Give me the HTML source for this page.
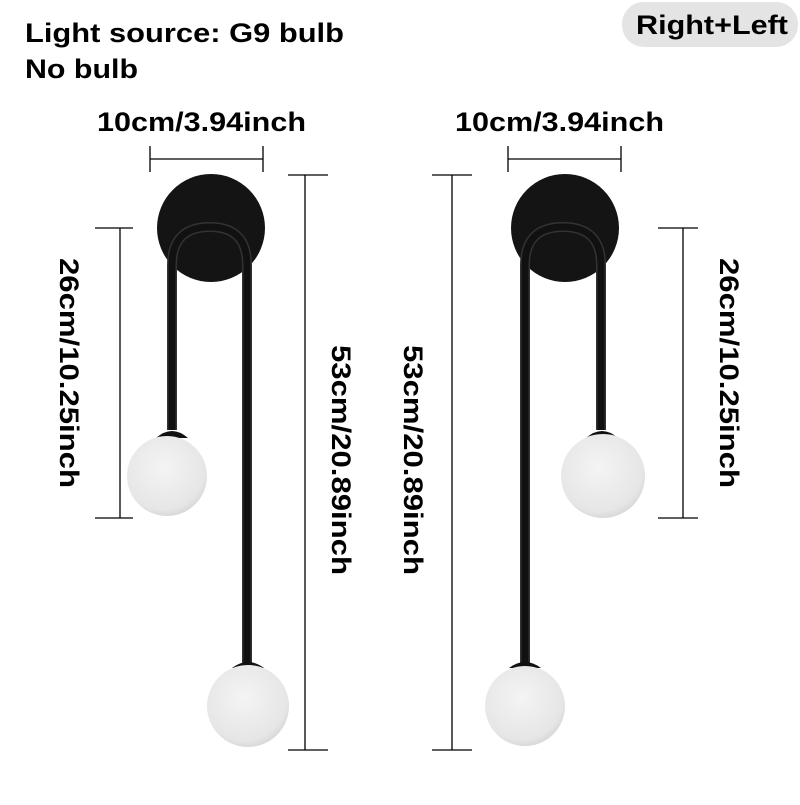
<!DOCTYPE html>
<html><head><style>
body{margin:0;width:800px;height:800px;background:#fff;overflow:hidden;font-family:"Liberation Sans",sans-serif}
</style></head><body>
<svg width="800" height="800" xmlns="http://www.w3.org/2000/svg" font-family="Liberation Sans, sans-serif" font-weight="bold">
<defs>
<radialGradient id="g" cx="0.45" cy="0.4" r="0.65"><stop offset="0" stop-color="#f4f4f4"/><stop offset="0.8" stop-color="#e6e6e6"/><stop offset="1" stop-color="#d2d2d2"/></radialGradient>
</defs>
<text x="25" y="42" font-size="27" textLength="319" lengthAdjust="spacingAndGlyphs">Light source: G9 bulb</text>
<text x="25" y="78" font-size="27" textLength="113" lengthAdjust="spacingAndGlyphs">No bulb</text>
<rect x="622" y="2" width="176" height="45" rx="22" fill="#e4e4e4"/>
<text x="636" y="34" font-size="27" textLength="152" lengthAdjust="spacingAndGlyphs">Right+Left</text>
<g stroke="#000" stroke-width="1.3" fill="none">
<path d="M150 159H263M150 146V172M263 146V172"/>
<path d="M508 159H621M508 146V172M621 146V172"/>
<path d="M120 228V518M95 228H133M95 518H133"/>
<path d="M305 175V750M288 175H328M288 750H328"/>
<path d="M452 175V750M432 175H472M432 750H472"/>
<path d="M683 228V518M658 228H698M658 518H698"/>
</g>
<text x="97" y="131" font-size="27" textLength="209" lengthAdjust="spacingAndGlyphs">10cm/3.94inch</text>
<text x="455" y="131" font-size="27" textLength="209" lengthAdjust="spacingAndGlyphs">10cm/3.94inch</text>
<text transform="translate(60,258) rotate(90)" font-size="27" textLength="230" lengthAdjust="spacingAndGlyphs">26cm/10.25inch</text>
<text transform="translate(332,345) rotate(90)" font-size="27" textLength="230" lengthAdjust="spacingAndGlyphs">53cm/20.89inch</text>
<text transform="translate(404,345) rotate(90)" font-size="27" textLength="230" lengthAdjust="spacingAndGlyphs">53cm/20.89inch</text>
<text transform="translate(720,258) rotate(90)" font-size="27" textLength="230" lengthAdjust="spacingAndGlyphs">26cm/10.25inch</text>
<!-- left lamp -->
<circle cx="211" cy="228" r="54" fill="#141414"/>
<path d="M172 430V265Q172 227 210 227Q247 227 247 265V665" stroke="#333" stroke-width="10" fill="none"/>
<path d="M172 430V265Q172 227 210 227Q247 227 247 265V665" stroke="#111" stroke-width="7" fill="none"/>
<path d="M156 438Q172 424 188 438Z" fill="#111"/>
<path d="M232 668Q248 656 264 668Z" fill="#111"/>
<circle cx="167" cy="476" r="40" fill="url(#g)"/>
<circle cx="248" cy="706" r="41" fill="url(#g)"/>
<!-- right lamp -->
<circle cx="565" cy="228" r="54" fill="#141414"/>
<path d="M525 665V265Q525 227 563 227Q601 227 601 265V430" stroke="#333" stroke-width="10" fill="none"/>
<path d="M525 665V265Q525 227 563 227Q601 227 601 265V430" stroke="#111" stroke-width="7" fill="none"/>
<path d="M586 438Q602 424 618 438Z" fill="#111"/>
<path d="M509 668Q525 656 541 668Z" fill="#111"/>
<circle cx="603" cy="476" r="42" fill="url(#g)"/>
<circle cx="525" cy="706" r="40" fill="url(#g)"/>
</svg>
</body></html>
